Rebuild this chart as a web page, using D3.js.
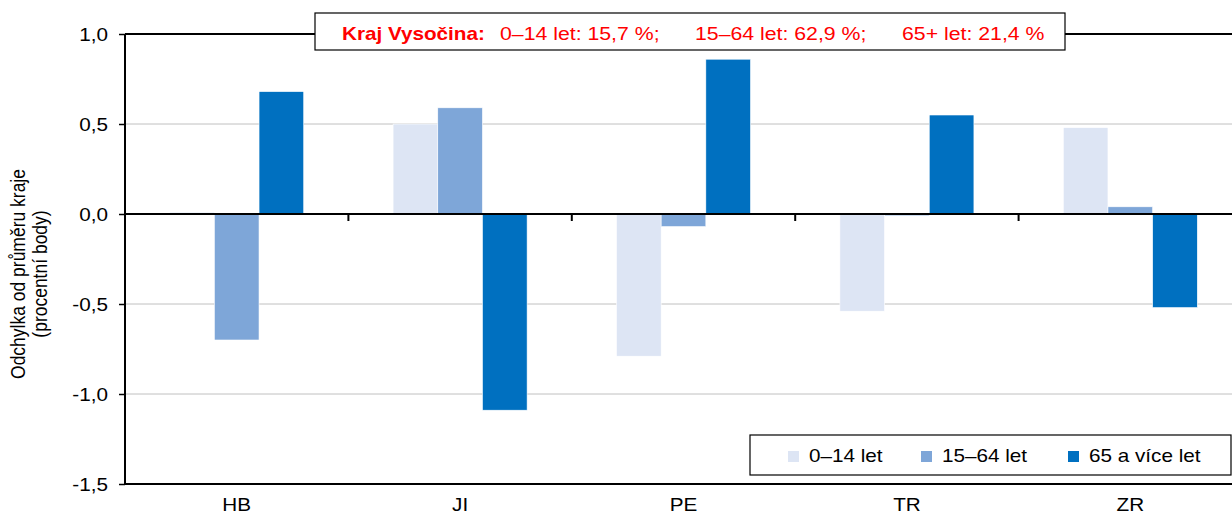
<!DOCTYPE html>
<html><head><meta charset="utf-8">
<script src="https://cdn.jsdelivr.net/npm/d3@7"></script>
<style>body{margin:0;background:#fff;overflow:hidden}svg{display:block;font-family:"Liberation Sans",Arial,sans-serif}</style>
</head><body>
<svg id="c" width="1232" height="515"></svg>
<script>
const categories = ["HB","JI","PE","TR","ZR"];
const seriesNames = ["0–14 let","15–64 let","65 a více let"];
const s0_14 = [0.01, 0.50, -0.79, -0.54, 0.48];
const s15_64 = [-0.70, 0.59, -0.07, -0.01, 0.04];
const s65 = [0.68, -1.09, 0.86, 0.55, -0.52];
const yTicks = [1.0, 0.5, 0.0, -0.5, -1.0, -1.5];
const colors = ["#DDE5F4", "#7EA6D8", "#0070C0"];
const series = [s0_14, s15_64, s65];

const SX = 1.15; // horizontal text stretch
const svg = d3.select("#c");
const L = 125, R = 1242, T = 34, B = 484;
const x0 = d3.scaleBand().domain(categories).range([L, R]).padding(0);
const bw = x0.bandwidth();
const x1 = d3.scaleBand().domain(d3.range(3)).range([bw*0.2, bw*0.8]).padding(0);
const y = d3.scaleLinear().domain([-1.5, 1.0]).range([B, T]);
const fmt = v => d3.format(".1f")(v).replace(".", ",").replace("−","-");

function txt(parent, x, yy, s, size, anchor) {
  return parent.append("text")
    .attr("transform", `translate(${x},${yy}) scale(${SX},1)`)
    .attr("font-size", size).attr("text-anchor", anchor || "start").text(s);
}

// gridlines
svg.append("g").selectAll("line").data([0.5,-0.5,-1.0]).join("line")
  .attr("x1", L).attr("x2", 1232).attr("y1", d=>y(d)).attr("y2", d=>y(d))
  .attr("stroke", "#c0c0c0").attr("stroke-width", 1);

// bars
const g = svg.append("g");
categories.forEach((c, i) => {
  series.forEach((s, j) => {
    const v = s[i];
    g.append("rect")
      .attr("x", x0(c) + x1(j))
      .attr("width", x1.bandwidth())
      .attr("y", y(Math.max(0, v)))
      .attr("height", Math.abs(y(v) - y(0)))
      .attr("fill", colors[j])
      .attr("stroke", "#fff").attr("stroke-width", 0.6);
  });
});

// top line
svg.append("line").attr("x1", L).attr("x2", 1232).attr("y1", y(1)).attr("y2", y(1)).attr("stroke", "#000").attr("stroke-width", 2);
// zero line with ticks
svg.append("line").attr("x1", L).attr("x2", 1232).attr("y1", y(0)).attr("y2", y(0)).attr("stroke", "#000").attr("stroke-width", 2);
svg.append("g").selectAll("line").data(categories.slice(1)).join("line")
  .attr("x1", d=>x0(d)).attr("x2", d=>x0(d)).attr("y1", y(0)).attr("y2", y(0)+7)
  .attr("stroke", "#000").attr("stroke-width", 2);
// bottom axis
svg.append("line").attr("x1", L).attr("x2", 1232).attr("y1", B).attr("y2", B).attr("stroke", "#000").attr("stroke-width", 2);
const cg = svg.append("g").attr("fill", "#000");
categories.forEach(c => txt(cg, x0(c)+bw/2, 511, c, 18, "middle"));

// y axis
const ya = svg.append("g").attr("transform", `translate(${L},0)`)
  .call(d3.axisLeft(y).tickValues(yTicks).tickFormat("").tickSize(6).tickSizeOuter(0));
ya.select(".domain").attr("stroke-width", 2).attr("d", `M0,${T}V${B}`);
ya.selectAll(".tick line").attr("stroke-width", 1.5);
const yl = svg.append("g").attr("fill", "#000");
yTicks.forEach(v => txt(yl, 108, y(v) + 6.5, fmt(v), 18, "end"));

// y title
const yt = svg.append("text").attr("transform", `translate(25,274) scale(${SX},1) rotate(-90)`)
  .attr("text-anchor", "middle").attr("font-size", 17.5).attr("fill", "#000");
yt.append("tspan").attr("x", 0).attr("dy", 0).text("Odchylka od průměru kraje");
yt.append("tspan").attr("x", 0).attr("dy", 19).text("(procentní body)");

// annotation box
svg.append("rect").attr("x", 315).attr("y", 13).attr("width", 750).attr("height", 37)
  .attr("fill", "#fff").attr("stroke", "#000").attr("stroke-width", 1.2);
const at = svg.append("g").attr("fill", "#FF0000");
txt(at, 342, 40, "Kraj Vysočina:", 18).attr("font-weight", "bold");
txt(at, 500, 40, "0–14 let: 15,7 %;", 18.5);
txt(at, 695, 40, "15–64 let: 62,9 %;", 18.5);
txt(at, 902, 40, "65+ let: 21,4 %", 18.5);

// legend
svg.append("rect").attr("x", 750).attr("y", 435).attr("width", 481).attr("height", 40)
  .attr("fill", "#fff").attr("stroke", "#000").attr("stroke-width", 1.2);
const lx = [788, 921, 1068];
const lg = svg.append("g");
seriesNames.forEach((d, i) => {
  lg.append("rect").attr("x", lx[i]).attr("y", 451).attr("width", 11).attr("height", 11).attr("fill", colors[i]);
  txt(lg, lx[i] + 21, 462, d, 18).attr("fill", "#000");
});
</script>
</body></html>
